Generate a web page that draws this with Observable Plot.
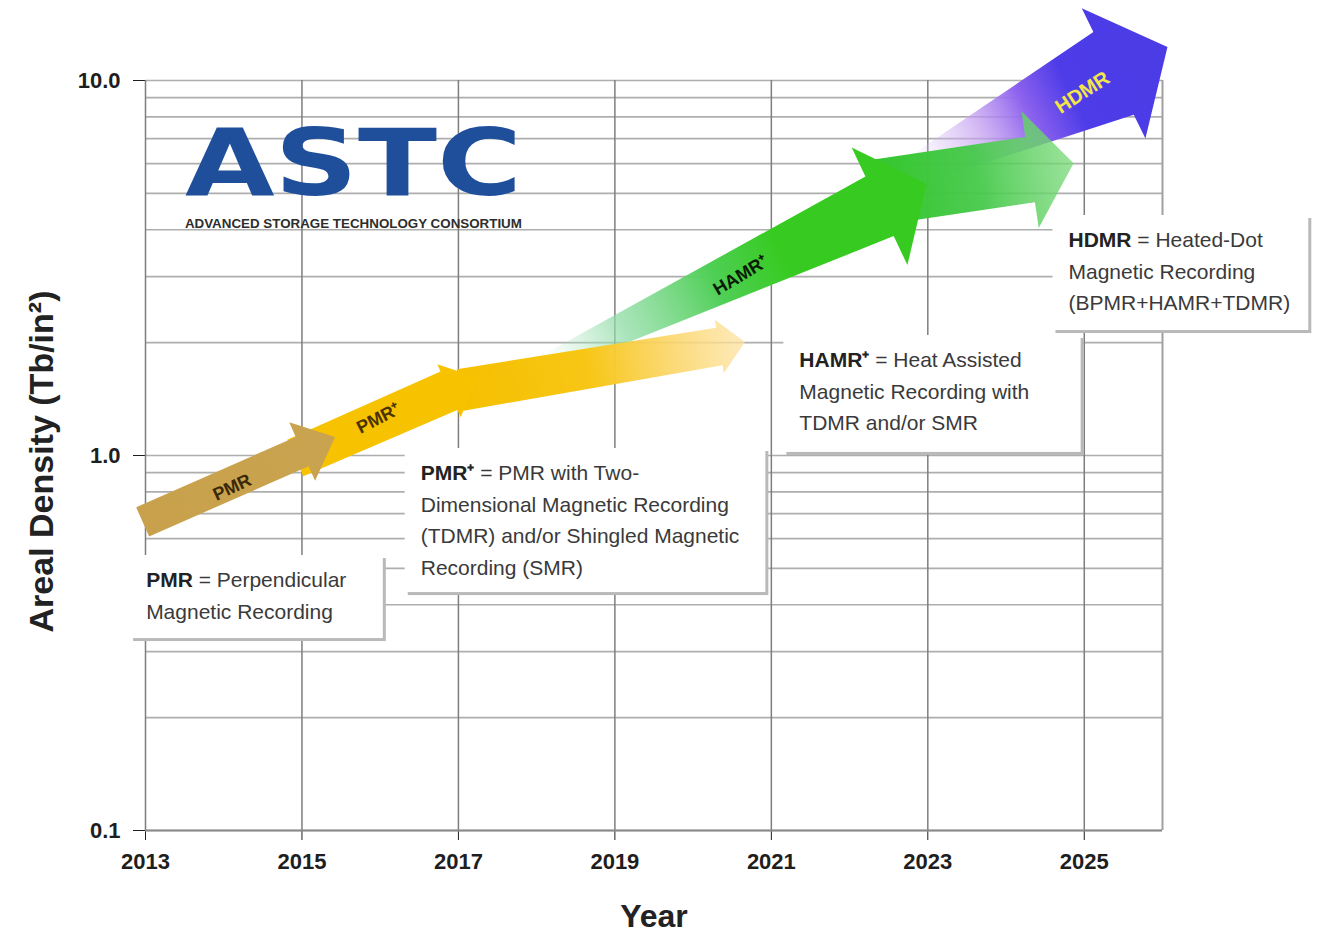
<!DOCTYPE html>
<html>
<head>
<meta charset="utf-8">
<script src="https://cdn.jsdelivr.net/npm/d3@7"></script>
<script src="https://cdn.jsdelivr.net/npm/@observablehq/plot@0.6"></script>
<style>
  body { margin: 0; background: #fff; }
  #chart svg { display: block; }
</style>
</head>
<body>
<div id="chart"></div>
<script>
// ---------- data ----------
const gridYears = [2013, 2015, 2017, 2019, 2021, 2023, 2025];
const frameYear = [2026];
const yTickValues = [0.1, 1, 10];
const gridDensities = [0.1, 0.2, 0.3, 0.4, 0.5, 0.6, 0.7, 0.8, 0.9, 1, 2, 3, 4, 5, 6, 7, 8, 9, 10];

// roadmap arrows (drawn in this order)
const arrowNames     = ["HDMR", "HAMR+ ext", "HAMR+", "PMR+ ext", "PMR+", "PMR"];
const arrowFromYear  = [2022.85, 2022.40, 2018.12, 2017.03, 2014.92, 2012.97];
const arrowFromValue = [5.75, 5.03, 1.74, 1.49, 0.982, 0.663];
const arrowToYear    = [2026.07, 2024.87, 2022.99, 2020.67, 2017.26, 2015.43];
const arrowToValue   = [12.25, 6.0, 5.28, 2.0, 1.605, 1.117];

// labels written on the arrows
const arrowLabels = ["PMR", "PMR\u207A", "HAMR\u207A", "HDMR"];
const labelYear   = [2014.11, 2015.98, 2020.61, 2024.98];
const labelValue  = [0.822, 1.255, 3.02, 9.29];

// callout notes
const noteTerms = ["PMR", "PMR\u207A", "HAMR\u207A", "HDMR"];
const noteLines = [
  [" = Perpendicular", "Magnetic Recording"],
  [" = PMR with Two-", "Dimensional Magnetic Recording", "(TDMR) and/or Shingled Magnetic", "Recording (SMR)"],
  [" = Heat Assisted", "Magnetic Recording with", "TDMR and/or SMR"],
  [" = Heated-Dot", "Magnetic Recording", "(BPMR+HAMR+TDMR)"]
];
const noteX1     = [2012.81, 2016.32, 2021.16, 2024.60];
const noteX2     = [2016.04, 2020.93, 2024.96, 2027.87];
const noteTop    = [0.541, 1.044, 2.09, 4.365];
const noteBottom = [0.325, 0.431, 1.019, 2.154];

// logo
const logoTexts = ["ASTC", "ADVANCED STORAGE TECHNOLOGY CONSORTIUM"];
const logoYear  = [2013.51, 2013.51];
const logoValue = [4.94, 4.04];

const xTitle = ["Year"];
const yTitle = ["Areal Density (Tb/in\u00B2)"];

// ---------- styles ----------
const SANS = "'Liberation Sans', Arial, sans-serif";

const arrowStyle = {
  "HDMR":      {w0: 30, w1: 92, wh: 145, hl: 60, stops: [[0, "#d9c2f2", 0], [0.25, "#c7a3f0", 0.7], [0.45, "#8d62ee", 1], [0.62, "#4d3ce8", 1], [1, "#4b3ce6", 1]]},
  "HAMR+ ext": {w0: 66, w1: 66, wh: 118, hl: 44, stops: [[0, "#34c62c", 1], [0.5, "#45c94a", 0.95], [1, "#7ad97a", 0.75]]},
  "HAMR+":     {w0: 20, w1: 66, wh: 130, hl: 52, stops: [[0, "#b8e6c8", 0], [0.2, "#8fdca6", 0.75], [0.45, "#4fcf55", 1], [0.62, "#37cb21", 1], [1, "#37cb21", 1]]},
  "PMR+ ext":  {w0: 42, w1: 38, wh: 54, hl: 26, stops: [[0, "#f6c000", 1], [0.45, "#f7c616", 1], [0.75, "#fbd66a", 0.9], [1, "#fde3a4", 0.75]]},
  "PMR+":      {w0: 40, w1: 42, wh: 58, hl: 32, stops: [[0, "#f7c200", 1], [1, "#f7c200", 1]]},
  "PMR":       {w0: 32, w1: 32, wh: 64, hl: 36, stops: [[0, "#c9a14c", 1], [1, "#caa350", 1]]}
};
const labelStyle = [
  {rotate: -25, fill: "#3a2908", size: 18},
  {rotate: -27, fill: "#4a3300", size: 18},
  {rotate: -31, fill: "#0a1a05", size: 18},
  {rotate: -33, fill: "#f2e64a", size: 20}
];

// ---------- custom marks that use Plot's scales ----------
function arrowsMark(index, scales) {
  const X = scales.x, Y = scales.y;
  const g = d3.create("svg:g");
  const defs = g.append("defs");
  arrowNames.forEach((name, i) => {
    const s = arrowStyle[name];
    const sx = X(arrowFromYear[i]), sy = Y(arrowFromValue[i]);
    const tx = X(arrowToYear[i]), ty = Y(arrowToValue[i]);
    const dx = tx - sx, dy = ty - sy, L = Math.hypot(dx, dy);
    const ux = dx / L, uy = dy / L, nx = -uy, ny = ux;
    const bx = tx - s.hl * ux, by = ty - s.hl * uy;
    const pts = [
      [sx + nx * s.w0 / 2, sy + ny * s.w0 / 2],
      [bx + nx * s.w1 / 2, by + ny * s.w1 / 2],
      [bx + nx * s.wh / 2, by + ny * s.wh / 2],
      [tx, ty],
      [bx - nx * s.wh / 2, by - ny * s.wh / 2],
      [bx - nx * s.w1 / 2, by - ny * s.w1 / 2],
      [sx - nx * s.w0 / 2, sy - ny * s.w0 / 2]
    ];
    const id = "arrowGrad" + i;
    const grad = defs.append("linearGradient").attr("id", id)
      .attr("gradientUnits", "userSpaceOnUse")
      .attr("x1", sx).attr("y1", sy).attr("x2", tx).attr("y2", ty);
    s.stops.forEach(([o, c, a]) => grad.append("stop").attr("offset", o).attr("stop-color", c).attr("stop-opacity", a));
    g.append("path")
      .attr("d", "M" + pts.map(p => p.join(",")).join("L") + "Z")
      .attr("fill", `url(#${id})`);
  });
  arrowLabels.forEach((t, i) => {
    const st = labelStyle[i];
    const x = X(labelYear[i]), y = Y(labelValue[i]);
    g.append("text")
      .attr("transform", `translate(${x},${y}) rotate(${st.rotate})`)
      .attr("text-anchor", "middle").attr("dy", "0.35em")
      .attr("font-family", SANS).attr("font-weight", "bold")
      .attr("font-size", st.size).attr("fill", st.fill)
      .text(t);
  });
  return g.node();
}

function notesMark(index, scales) {
  const X = scales.x, Y = scales.y;
  const g = d3.create("svg:g").attr("text-anchor", "start");
  noteTerms.forEach((term, i) => {
    const x0 = X(noteX1[i]) + 16, y0 = Y(noteTop[i]) + 32;
    noteLines[i].forEach((line, j) => {
      const t = g.append("text")
        .attr("x", x0).attr("y", y0 + j * 31.7)
        .attr("text-anchor", "start")
        .attr("font-family", SANS).attr("font-weight", "normal")
        .attr("font-size", 21).attr("fill", "#3a3a3a");
      if (j === 0) {
        t.append("tspan").attr("font-weight", "bold").attr("fill", "#222").text(term);
        t.append("tspan").text(line);
      } else {
        t.text(line);
      }
    });
  });
  return g.node();
}

function logoMark(index, scales) {
  const X = scales.x, Y = scales.y;
  const g = d3.create("svg:g").attr("text-anchor", "start");
  g.append("text")
    .attr("x", X(logoYear[0])).attr("y", Y(logoValue[0]))
    .attr("text-anchor", "start")
    .attr("font-family", "'DejaVu Sans', sans-serif").attr("font-weight", "bold")
    .attr("font-size", 92).attr("fill", "#1f4f9b")
    .attr("textLength", 337).attr("lengthAdjust", "spacingAndGlyphs")
    .text(logoTexts[0]);
  g.append("text")
    .attr("x", X(logoYear[1])).attr("y", Y(logoValue[1]))
    .attr("text-anchor", "start")
    .attr("font-family", SANS).attr("font-weight", "bold")
    .attr("font-size", 12.5).attr("fill", "#2d2d2d")
    .attr("textLength", 337).attr("lengthAdjust", "spacingAndGlyphs")
    .text(logoTexts[1]);
  return g.node();
}

// ---------- plot ----------
const noteData = noteTerms.map((t, i) => ({x1: noteX1[i], x2: noteX2[i], y1: noteBottom[i], y2: noteTop[i]}));

const chart = Plot.plot({
  width: 1319,
  height: 933,
  marginLeft: 145,
  marginRight: 157,
  marginTop: 80,
  marginBottom: 103,
  style: {fontFamily: SANS, fontSize: "22px", fontWeight: "bold", color: "#1e1e1e", background: "transparent", overflow: "visible"},
  x: {domain: [2013, 2026], ticks: gridYears, tickFormat: "d", tickSize: 10, tickPadding: 13, label: null},
  y: {type: "log", domain: [0.1, 10], ticks: yTickValues, tickFormat: d3.format(".1f"), tickSize: 12, tickPadding: 13, label: null},
  marks: [
    Plot.ruleY(gridDensities, {stroke: "#a0a0a0", strokeWidth: 1.7, strokeOpacity: 0.85}),
    Plot.ruleX(gridYears, {stroke: "#7e7e7e", strokeWidth: 1.5}),
    Plot.ruleX(frameYear, {stroke: "#a0a0a0", strokeWidth: 2}),
    Plot.ruleY([0.1], {stroke: "#8a8a8a", strokeWidth: 2}),
    logoMark,
    arrowsMark,
    Plot.rect(noteData, {x1: "x1", x2: "x2", y1: "y1", y2: "y2", fill: "#b9b9b9", dx: 3, dy: 3}),
    Plot.rect(noteData, {x1: "x1", x2: "x2", y1: "y1", y2: "y2", fill: "#ffffff"}),
    notesMark,
    Plot.text(xTitle, {text: d => d, frameAnchor: "bottom", lineAnchor: "middle", dy: 86, fontSize: 32, fontWeight: "bold", fill: "#222"}),
    Plot.text(yTitle, {text: d => d, frameAnchor: "left", textAnchor: "middle", lineAnchor: "middle", dx: -103, dy: 6, rotate: -90, fontSize: 34, fontWeight: "bold", fill: "#222"})
  ]
});
document.getElementById("chart").appendChild(chart);
</script>
</body>
</html>
